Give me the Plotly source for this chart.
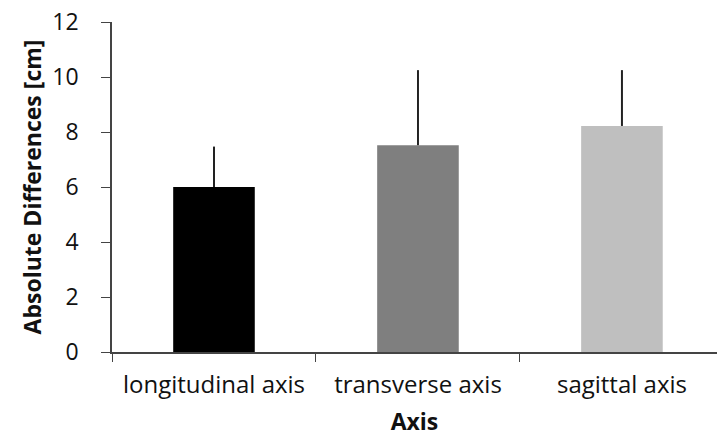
import plotly.graph_objects as go

categories = ["longitudinal axis", "transverse axis", "sagittal axis"]
values = [6.0, 7.52, 8.22]
err_plus = [1.47, 2.73, 2.03]
colors = ["#000000", "#7f7f7f", "#bfbfbf"]
y_ticks = [0, 2, 4, 6, 8, 10, 12]

fig = go.Figure(go.Bar(
    x=categories, y=values, width=0.4,
    marker=dict(color=colors, line=dict(width=0)),
    error_y=dict(type="data", array=err_plus, arrayminus=[0, 0, 0], symmetric=False,
                 color="#222222", thickness=2, width=0),
))

fnt = "Open Sans, Liberation Sans, sans-serif"
fig.update_layout(
    width=717, height=437,
    margin=dict(l=112, r=0, t=22, b=85),
    paper_bgcolor="white", plot_bgcolor="white",
    showlegend=False,
    font=dict(family=fnt, color="#000000"),
    xaxis=dict(
        range=[-0.5, 2.466], showline=True, linecolor="#444444", linewidth=1.5,
        ticks="outside", tickson="boundaries", ticklen=8, tickcolor="#444444",
        tickfont=dict(size=24, family=fnt, color="#111111"),
        ticklabelstandoff=10,
        title=dict(text="<b>Axis</b>", font=dict(size=23, family=fnt, color="#111111"), standoff=16),
        showgrid=False, zeroline=False,
    ),
    yaxis=dict(
        range=[0, 12], tickvals=y_ticks, showline=True, linecolor="#444444", linewidth=1.5,
        ticks="outside", ticklen=9, tickcolor="#444444",
        tickfont=dict(size=23, family=fnt, color="#111111"),
        ticklabelstandoff=18,
        title=dict(text="<b>Absolute Differences [cm]</b>", font=dict(size=23, family=fnt, color="#111111"), standoff=4),
        showgrid=False, zeroline=False,
    ),
)

fig.write_html("out.html")
